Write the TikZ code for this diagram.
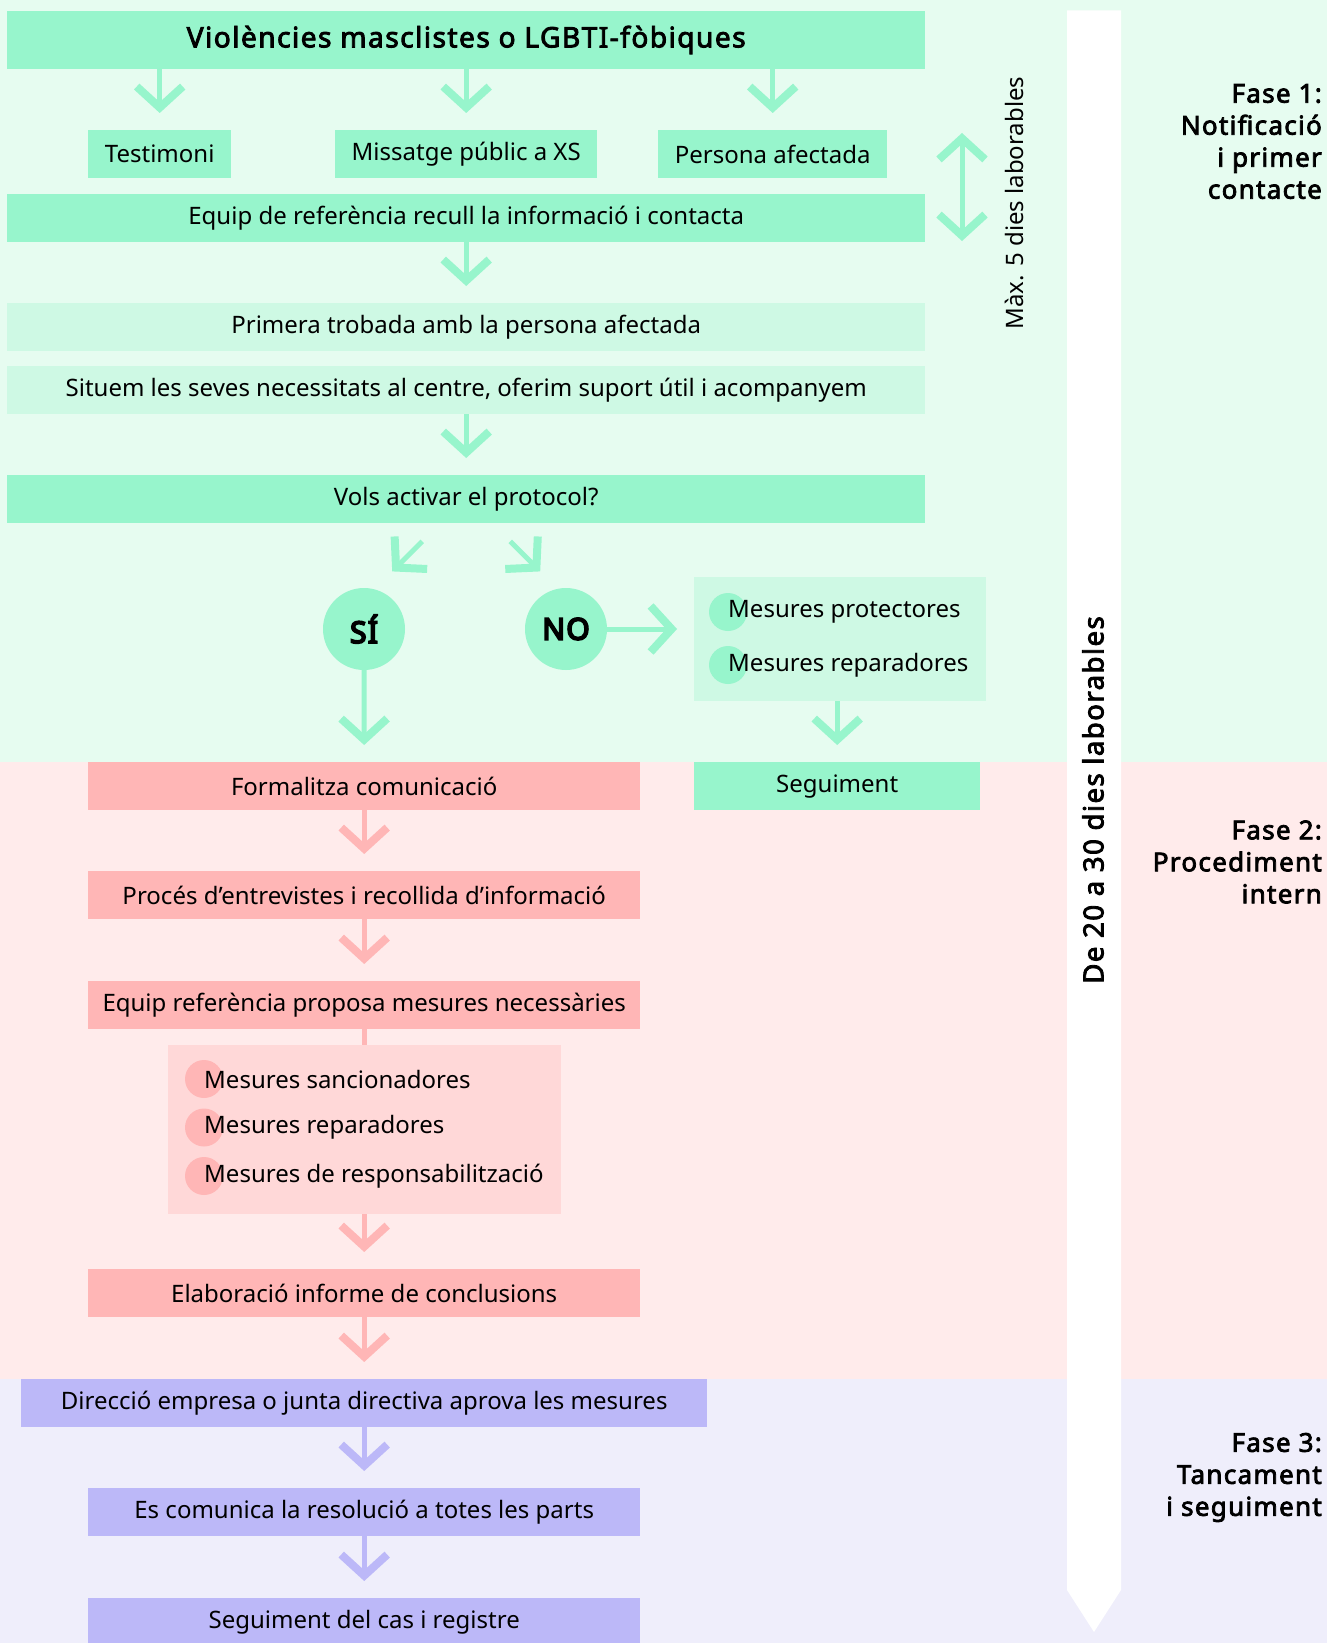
\documentclass[tikz,border=0pt]{standalone}
\usepackage{fontspec}
\setmainfont{Noto Sans}[BoldFont={Noto Sans}, BoldFeatures={FakeBold=3, LetterSpace=5}]
\newfontfamily\heavyfont{Noto Sans}[FakeBold=6, LetterSpace=4]
\usetikzlibrary{arrows.meta, positioning, calc}

\definecolor{bandverd}{HTML}{E6FCF0}
\definecolor{bandrosa}{HTML}{FFEBEB}
\definecolor{bandlila}{HTML}{EFEEFB}
\definecolor{verd}{HTML}{97F5CC}
\definecolor{verdclar}{HTML}{CEF9E4}
\definecolor{rosa}{HTML}{FFB6B6}
\definecolor{rosaclar}{HTML}{FFD8D8}
\definecolor{lila}{HTML}{BCB8F8}

\tikzset{
  caixa/.style={fill=#1, inner sep=0pt, minimum height=48pt, anchor=north west,
    font=\fontsize{24}{28}\selectfont},
  cercle/.style={circle, fill=verd, inner sep=0pt, minimum size=82pt,
    font=\fontsize{30}{36}\selectfont\heavyfont},
  bala/.style={circle, fill=#1, inner sep=0pt, minimum size=38pt},
  fase/.style={anchor=east, align=right, inner sep=0pt,
    font=\fontsize{26}{32}\selectfont\bfseries},
  fletxa/.style={draw=#1, line width=5pt,
    -{Straight Barb[length=21pt, width=46pt, line width=8pt]}, shorten >=17pt},
}

\begin{document}
\begin{tikzpicture}[x=1pt, y=-1pt]
  \useasboundingbox (0,0) rectangle (1327,1643);
  % fons de les fases
  \fill[bandverd] (0,0) rectangle (1327,762);
  \fill[bandrosa] (0,762) rectangle (1327,1379);
  \fill[bandlila] (0,1379) rectangle (1327,1643);
  \fill[white] (1067,10.5) -- (1121,10.5) -- (1121,1590) -- (1094,1632) -- (1067,1590) -- cycle;

  % fase 1
  \node[caixa=verd, minimum width=918pt, minimum height=58.5pt,
    font=\fontsize{28.2}{32}\selectfont\bfseries] (titol) at (7,10.5) {Violències masclistes o LGBTI-fòbiques};
  \node[caixa=verd, minimum width=143pt] (testimoni) at (88,130) {Testimoni};
  \node[caixa=verd, minimum width=262pt] (missatge) at (335,130) {Missatge públic a XS};
  \node[caixa=verd, minimum width=229pt] (persona) at (658,130) {Persona afectada};
  \node[caixa=verd, minimum width=918pt] (equip) at (7,194) {Equip de referència recull la informació i contacta};
  \node[caixa=verdclar, minimum width=918pt] (primera) at (7,303) {Primera trobada amb la persona afectada};
  \node[caixa=verdclar, minimum width=918pt] (situem) at (7,366) {Situem les seves necessitats al centre, oferim suport útil i acompanyem};
  \node[caixa=verd, minimum width=918pt] (vols) at (7,475) {Vols activar el protocol?};

  \node[cercle] (si) at (364,629) {SÍ};
  \node[cercle] (no) at (566,629) {NO};

  \node[caixa=verdclar, minimum width=292pt, minimum height=124pt] (mesuresno) at (694,577) {};
  \node[bala=verd] (bp) at (728,612) {};
  \node[bala=verd] (bq) at (728,665) {};
  \node[anchor=west, inner sep=0pt, font=\fontsize{24}{28}\selectfont] (tp) at (bp.center) {Mesures protectores};
  \node[anchor=west, inner sep=0pt, font=\fontsize{24}{28}\selectfont] (tq) at (bq.center) {Mesures reparadores};
  \node[caixa=verd, minimum width=286pt] (seguiment) at (694,762) {Seguiment};

  \draw[fletxa=verd] (titol.south -| testimoni.north) -- (testimoni.north);
  \draw[fletxa=verd] (titol.south -| missatge.north) -- (missatge.north);
  \draw[fletxa=verd] (titol.south -| persona.north) -- (persona.north);
  \draw[fletxa=verd] (equip.south) -- (primera.north);
  \draw[fletxa=verd] (situem.south) -- (vols.north);
  \coordinate (siA) at ($(vols.south)+(-44,18)$);
  \coordinate (siB) at ($(vols.south)+(-74,48)$);
  \coordinate (noA) at ($(vols.south)+(44,18)$);
  \coordinate (noB) at ($(vols.south)+(74,48)$);
  \draw[fletxa=verd, shorten >=0pt] (siA) -- (siB);
  \draw[fletxa=verd, shorten >=0pt] (noA) -- (noB);
  \draw[fletxa=verd] (no.east) -- (no.east -| mesuresno.west);
  \draw[fletxa=verd] (mesuresno.south -| seguiment.north) -- (seguiment.north);

  % doble fletxa i terminis
  \coordinate (maxA) at (962,133);
  \coordinate (maxB) at (962,241);
  \draw[draw=verd, line width=5pt,
    {Straight Barb[length=21pt, width=46pt, line width=8pt]}-{Straight Barb[length=21pt, width=46pt, line width=8pt]}] (maxA) -- (maxB);
  \node[rotate=90, font=\fontsize{24}{28}\selectfont] (max) at (1014,203) {Màx. 5 dies laborables};
  \node[rotate=90, font=\fontsize{27.7}{30}\selectfont\bfseries] (termini) at (1093,800) {De 20 a 30 dies laborables};

  % fase 2
  \node[caixa=rosa, minimum width=552pt] (formalitza) at (88,762) {Formalitza comunicació};
  \node[caixa=rosa, minimum width=552pt] (proces) at (88,871) {Procés d’entrevistes i recollida d’informació};
  \node[caixa=rosa, minimum width=552pt] (proposa) at (88,981) {Equip referència proposa mesures necessàries};
  \node[caixa=rosaclar, minimum width=393pt, minimum height=169pt] (mesuresrosa) at (168,1045) {};
  \foreach \t [count=\i] in {Mesures sancionadores, Mesures reparadores, Mesures de responsabilització} {
    \node[bala=rosa] (br\i) at (204,1079+48.5*\i-48.5) {};
    \node[anchor=west, inner sep=0pt, font=\fontsize{24}{28}\selectfont] (tr\i) at (br\i.center) {\t};
  }
  \node[caixa=rosa, minimum width=552pt] (elaboracio) at (88,1269) {Elaboració informe de conclusions};

  \draw[fletxa=verd] (si.south) -- (formalitza.north);
  \draw[fletxa=rosa] (formalitza.south) -- (proces.north);
  \draw[fletxa=rosa] (proces.south) -- (proposa.north);
  \draw[draw=rosa, line width=5pt] (proposa.south) -- (mesuresrosa.north -| proposa.south);
  \draw[fletxa=rosa] (mesuresrosa.south -| elaboracio.north) -- (elaboracio.north);

  % fase 3
  \node[caixa=lila, minimum width=686pt] (direccio) at (21,1379) {Direcció empresa o junta directiva aprova les mesures};
  \node[caixa=lila, minimum width=552pt] (comunica) at (88,1488) {Es comunica la resolució a totes les parts};
  \node[caixa=lila, minimum width=552pt] (registre) at (88,1598) {Seguiment del cas i registre};

  \draw[fletxa=rosa] (elaboracio.south) -- (direccio.north);
  \draw[fletxa=lila] (direccio.south -| comunica.north) -- (comunica.north);
  \draw[fletxa=lila] (comunica.south) -- (registre.north);

  % noms de les fases
  \node[fase] (fase1) at (1322,141.5) {Fase 1:\\Notificació\\i primer\\contacte};
  \node[fase] (fase2) at (1322,862) {Fase 2:\\Procediment\\intern};
  \node[fase] (fase3) at (1322,1477.5) {Fase 3:\\Tancament\\i seguiment};
\end{tikzpicture}
\end{document}
